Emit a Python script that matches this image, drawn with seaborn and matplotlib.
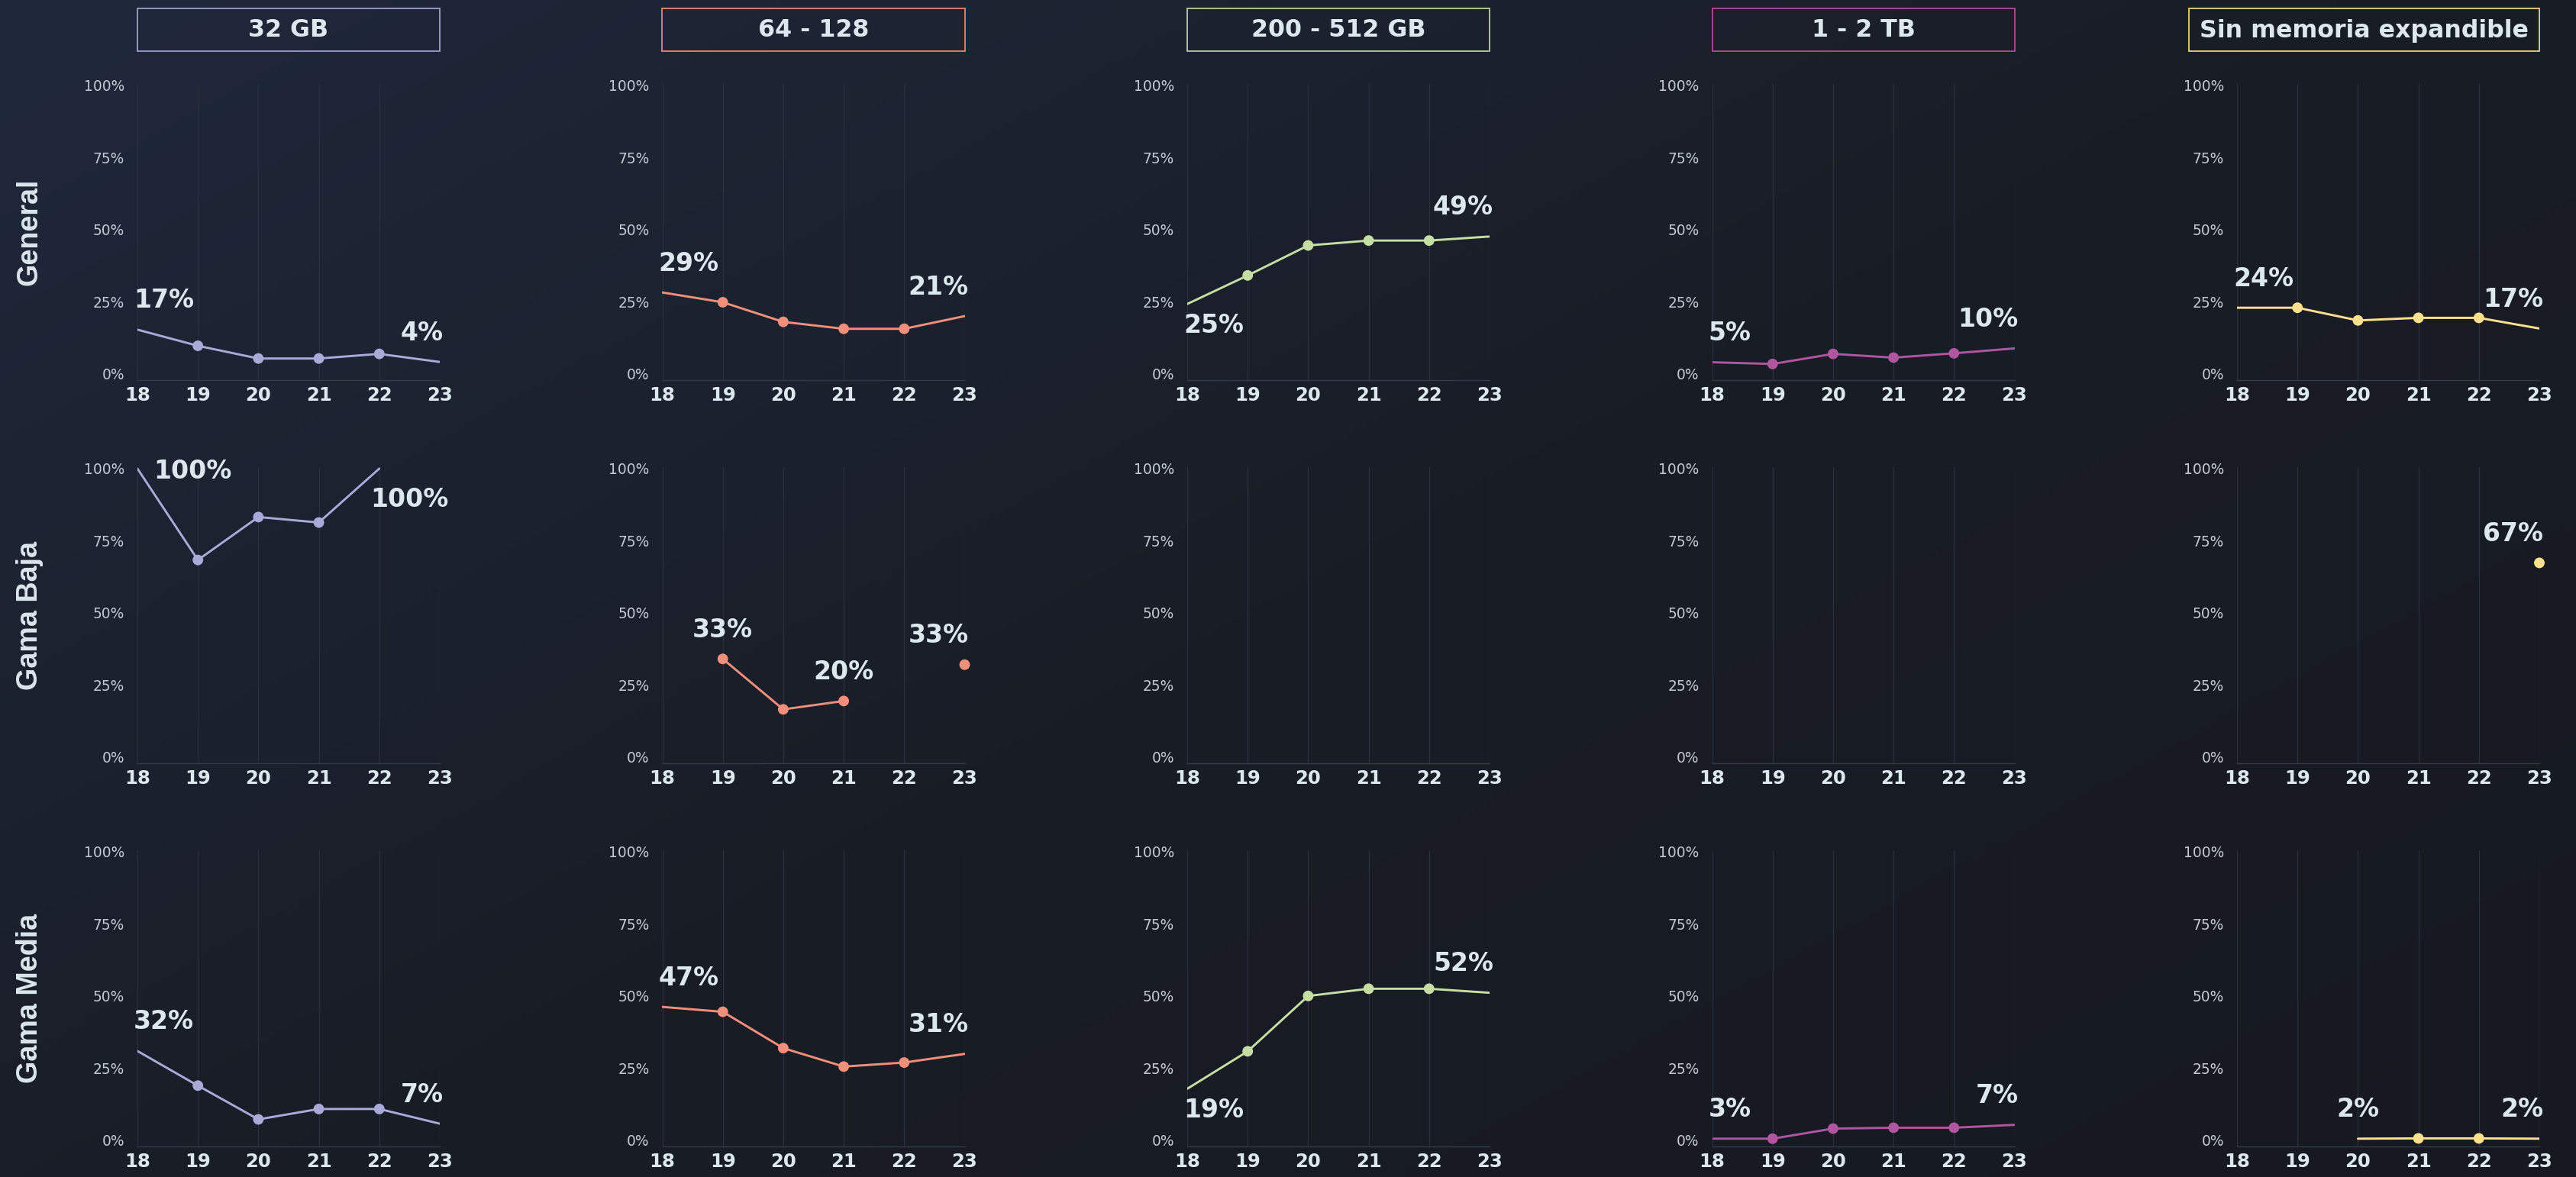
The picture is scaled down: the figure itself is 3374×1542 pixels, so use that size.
import numpy as np
import pandas as pd
import matplotlib
matplotlib.use("Agg")
import matplotlib.pyplot as plt
import seaborn as sns
from matplotlib.patches import Rectangle
from matplotlib.ticker import FixedLocator, PercentFormatter

# ---------------- data ----------------
YEARS = [18, 19, 20, 21, 22, 23]
ROWS = ["General", "Gama Baja", "Gama Media"]
CATEGORIES = ["32 GB", "64 - 128", "200 - 512 GB", "1 - 2 TB", "Sin memoria expandible"]
COLORS = ["#a9aad8", "#f28f7b", "#c6dea3", "#b0559f", "#fee08d"]
NA = np.nan

GENERAL = {
    "32 GB": [0.153, 0.097, 0.053, 0.053, 0.069, 0.041],
    "64 - 128": [0.282, 0.248, 0.180, 0.156, 0.156, 0.200],
    "200 - 512 GB": [0.242, 0.341, 0.445, 0.462, 0.462, 0.476],
    "1 - 2 TB": [0.040, 0.034, 0.069, 0.056, 0.071, 0.088],
    "Sin memoria expandible": [0.229, 0.229, 0.185, 0.194, 0.194, 0.157],
}
GAMA_BAJA = {
    "32 GB": [1.0, 0.683, 0.832, 0.813, 1.0, NA],
    "64 - 128": [NA, 0.340, 0.165, 0.194, NA, 0.320],
    "200 - 512 GB": [NA, NA, NA, NA, NA, NA],
    "1 - 2 TB": [NA, NA, NA, NA, NA, NA],
    "Sin memoria expandible": [NA, NA, NA, NA, NA, 0.673],
}
GAMA_MEDIA = {
    "32 GB": [0.309, 0.189, 0.072, 0.108, 0.108, 0.057],
    "64 - 128": [0.462, 0.445, 0.319, 0.255, 0.269, 0.299],
    "200 - 512 GB": [0.178, 0.308, 0.500, 0.525, 0.525, 0.511],
    "1 - 2 TB": [0.005, 0.005, 0.040, 0.043, 0.043, 0.053],
    "Sin memoria expandible": [NA, NA, 0.005, 0.006, 0.006, 0.005],
}

LABELS_GENERAL = {
    "32 GB": ["17%", None, None, None, None, "4%"],
    "64 - 128": ["29%", None, None, None, None, "21%"],
    "200 - 512 GB": ["25%", None, None, None, None, "49%"],
    "1 - 2 TB": ["5%", None, None, None, None, "10%"],
    "Sin memoria expandible": ["24%", None, None, None, None, "17%"],
}
LABELS_GAMA_BAJA = {
    "32 GB": ["100%", None, None, None, "100%", None],
    "64 - 128": [None, "33%", None, "20%", None, "33%"],
    "200 - 512 GB": [None] * 6,
    "1 - 2 TB": [None] * 6,
    "Sin memoria expandible": [None, None, None, None, None, "67%"],
}
LABELS_GAMA_MEDIA = {
    "32 GB": ["32%", None, None, None, None, "7%"],
    "64 - 128": ["47%", None, None, None, None, "31%"],
    "200 - 512 GB": ["19%", None, None, None, None, "52%"],
    "1 - 2 TB": ["3%", None, None, None, None, "7%"],
    "Sin memoria expandible": [None, None, "2%", None, None, "2%"],
}

ROW_DATA = [GENERAL, GAMA_BAJA, GAMA_MEDIA]
ROW_LABELS = [LABELS_GENERAL, LABELS_GAMA_BAJA, LABELS_GAMA_MEDIA]

# ---------------- style ----------------
W, H, DPI = 3374, 1542, 200
TEXT = "#dde7ee"
TICK_Y = "#c3cad4"
GRID = "#2a313e"
SPINE = "#333b4b"

sns.set_theme(style="dark")
plt.rcParams["font.family"] = ["DejaVu Sans"]

fig = plt.figure(figsize=(W / DPI, H / DPI), dpi=DPI)

# background gradient
bg = fig.add_axes([0, 0, 1, 1], zorder=-10)
gy, gx = np.mgrid[0:1:200j, 0:1:400j]
t = np.clip(gx * 0.55 + gy * 0.45, 0, 1)
c0 = np.array([0x1f, 0x28, 0x3b]) / 255
c1 = np.array([0x19, 0x1d, 0x26]) / 255
c2 = np.array([0x16, 0x19, 0x20]) / 255
w1 = np.clip(t / 0.5, 0, 1)[..., None]
w2 = np.clip((t - 0.5) / 0.5, 0, 1)[..., None]
img = np.where(t[..., None] < 0.5, c0 * (1 - w1) + c1 * w1, c1 * (1 - w2) + c2 * w2)
bg.imshow(img, aspect="auto", extent=[0, 1, 0, 1], origin="upper")
bg.axis("off")

def px2pt(p):
    return p * 72.0 / DPI

AX_W, AX_H = 396, 388
COL_LEFT = [180 + i * 687.5 for i in range(5)]
ROW_TOP = [110, 612, 1114]

for r, row in enumerate(ROWS):
    for c, cat in enumerate(CATEGORIES):
        lp, tp = COL_LEFT[c], ROW_TOP[r]
        ax = fig.add_axes([lp / W, 1 - (tp + AX_H) / H, AX_W / W, AX_H / H])
        ax.set_facecolor("none")
        vals = ROW_DATA[r][cat]
        labs = ROW_LABELS[r][cat]
        color = COLORS[c]
        df = pd.DataFrame({"year": YEARS, "value": vals})
        valid = df["value"].notna().to_numpy()

        # contiguous segments
        segs = []
        cur = []
        for i, v in enumerate(valid):
            if v:
                cur.append(i)
            elif cur:
                segs.append(cur)
                cur = []
        if cur:
            segs.append(cur)
        for s in segs:
            if len(s) >= 2:
                sns.lineplot(data=df.iloc[s], x="year", y="value", color=color,
                             lw=1.05, estimator=None, ax=ax, legend=False, zorder=2)
        # markers: all points if the series has an interior gap, else interior points
        idx_valid = [i for i in range(6) if valid[i]]
        has_gap = len(segs) > 1
        mask = np.zeros(6, dtype=bool)
        for i in idx_valid:
            if has_gap or len(idx_valid) == 1:
                mask[i] = True
            elif i != idx_valid[0] and i != idx_valid[-1]:
                mask[i] = True
        if mask.any():
            sns.scatterplot(data=df[mask], x="year", y="value", color=color, s=25,
                            edgecolor="none", linewidth=0, ax=ax, legend=False, zorder=3)
            for coll in ax.collections:
                coll.set_clip_on(False)

        # labels
        for i, lab in enumerate(labs):
            if lab is None:
                continue
            x, y = YEARS[i], vals[i]
            first = (i == 0) or np.isnan(vals[i - 1])
            nxt = vals[i + 1] if i + 1 < 6 else np.nan
            if x == 18:
                ha, dx = "left", -5
            elif x == 23:
                ha, dx = "right", 5
            else:
                ha, dx = "center", 0
            dy = 38
            if first and not np.isnan(nxt) and nxt > y + 0.05:
                dy = -28
            if y >= 0.95:
                if first:
                    ha, dx, dy = "left", 21, -4
                else:
                    ha, dx, dy = "left", -12, -41
            ax.annotate(lab, (x, y), xytext=(px2pt(dx), px2pt(dy)), textcoords="offset points",
                        ha=ha, va="center", fontsize=11.9, fontweight="bold", color=TEXT,
                        annotation_clip=False, zorder=5)

        ax.set_xlim(18, 23)
        ax.set_ylim(-0.022, 1.005)
        ax.xaxis.set_major_locator(FixedLocator(YEARS))
        ax.yaxis.set_major_locator(FixedLocator([0, 0.25, 0.5, 0.75, 1.0]))
        ax.yaxis.set_major_formatter(PercentFormatter(1.0, decimals=0))
        ax.set_xlabel("")
        ax.set_ylabel("")
        ax.grid(False)
        ax.xaxis.grid(True, color=GRID, lw=0.45)
        for sp in ["left", "right", "top"]:
            ax.spines[sp].set_visible(False)
        ax.spines["bottom"].set_visible(True)
        ax.spines["bottom"].set_color(SPINE)
        ax.spines["bottom"].set_linewidth(0.5)
        ax.tick_params(axis="y", length=0, pad=px2pt(17), labelsize=6.7, labelcolor=TICK_Y)
        ax.tick_params(axis="x", length=0, pad=px2pt(8), labelsize=8.8, labelcolor=TEXT)
        for tl in ax.get_xticklabels():
            tl.set_fontweight("bold")

# row labels
for r, row in enumerate(ROWS):
    fig.text(39 / W, 1 - (ROW_TOP[r] + AX_H / 2) / H, row, rotation=90, ha="center", va="center",
             fontsize=13.6, fontweight="bold", color="#dbe5ec",
             family=["Liberation Sans", "DejaVu Sans"])

# column headers (boxes)
fig.canvas.draw()
renderer = fig.canvas.get_renderer()
BOX_TOP, BOX_BOT = 11, 67
for c, cat in enumerate(CATEGORIES):
    lp = COL_LEFT[c]
    rp = lp + AX_W
    txt = fig.text(0.5, 0.5, cat, ha="center", va="center", fontsize=11.4,
                   fontweight="bold", color=TEXT)
    tw = txt.get_window_extent(renderer).width
    bw = max(AX_W, tw + 28)
    bl = rp - bw
    txt.set_position(((bl + bw / 2) / W, 1 - ((BOX_TOP + BOX_BOT) / 2 + 1) / H))
    rect = Rectangle((bl / W, 1 - BOX_BOT / H), bw / W, (BOX_BOT - BOX_TOP) / H,
                     transform=fig.transFigure, fill=False, edgecolor=COLORS[c], lw=0.6)
    fig.patches.append(rect)

fig.savefig("out.png", dpi=DPI)
